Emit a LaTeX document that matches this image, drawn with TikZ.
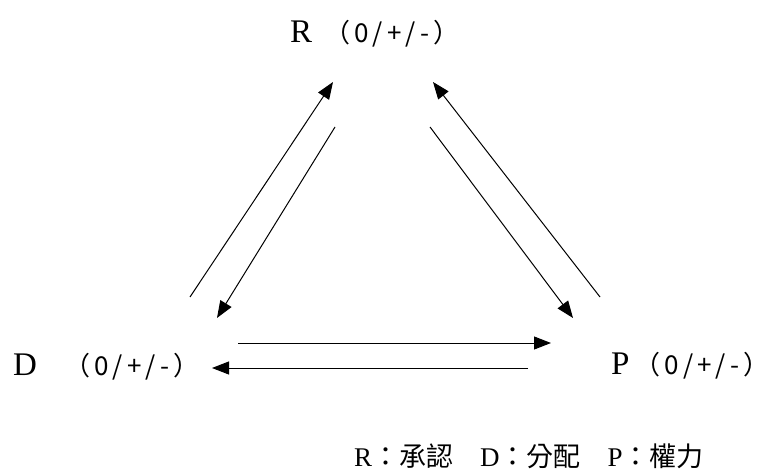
\documentclass[tikz,border=0pt]{standalone}
\usepackage{fontspec}
\setmainfont{Liberation Serif}
\newfontfamily\cjk{Noto Sans CJK TC}
\newfontfamily\cjkwide[LetterSpace=16,RawFeature=+palt]{Noto Sans CJK TC}
\usetikzlibrary{arrows.meta}

\begin{document}
\begin{tikzpicture}[
    x=1pt, y=-1pt,
    flow/.style={-{Triangle[length=17pt,width=13pt]}, line width=1pt},
    role/.style={anchor=base west, inner sep=0pt, font=\fontsize{33}{36}\selectfont},
    sign/.style={anchor=base west, inner sep=0pt, font=\cjkwide\fontsize{26}{30}\selectfont},
    legend/.style={anchor=base west, inner sep=0pt, font=\fontsize{27}{30}\selectfont}
]
\useasboundingbox (0,0) rectangle (762,473);
% labels
\node[role] (R) at (290,43) {R};
\node[sign] (Rs) at (336,43) {（\hspace{0.2em}0/+/-\hspace{0.2em}）};
\node[role] (D) at (13,375) {D};
\node[sign] (Ds) at (76,375) {（\hspace{0.2em}0/+/-\hspace{0.2em}）};
\node[role] (P) at (611,374) {P};
\node[sign] (Ps) at (646,374) {（\hspace{0.2em}0/+/-\hspace{0.2em}）};
% arrow ends
\coordinate (dr0) at (190,297);
\coordinate (dr1) at (333,82);
\coordinate (rd0) at (335,127);
\coordinate (rd1) at (217,318);
\coordinate (pr0) at (600,297);
\coordinate (pr1) at (433,82);
\coordinate (rp0) at (430,127);
\coordinate (rp1) at (573,318);
\coordinate (dp0) at (238,343);
\coordinate (dp1) at (551,343);
\coordinate (pd0) at (528,368);
\coordinate (pd1) at (212,368);
\draw[flow] (dr0) -- (dr1);
\draw[flow] (rd0) -- (rd1);
\draw[flow] (pr0) -- (pr1);
\draw[flow] (rp0) -- (rp1);
\draw[flow] (dp0) -- (dp1);
\draw[flow] (pd0) -- (pd1);
% key
\node[legend] (key) at (354,466) {R{\cjk：承認}\quad D{\cjk：分配}\quad P{\cjk：權力}};
\end{tikzpicture}
\end{document}
